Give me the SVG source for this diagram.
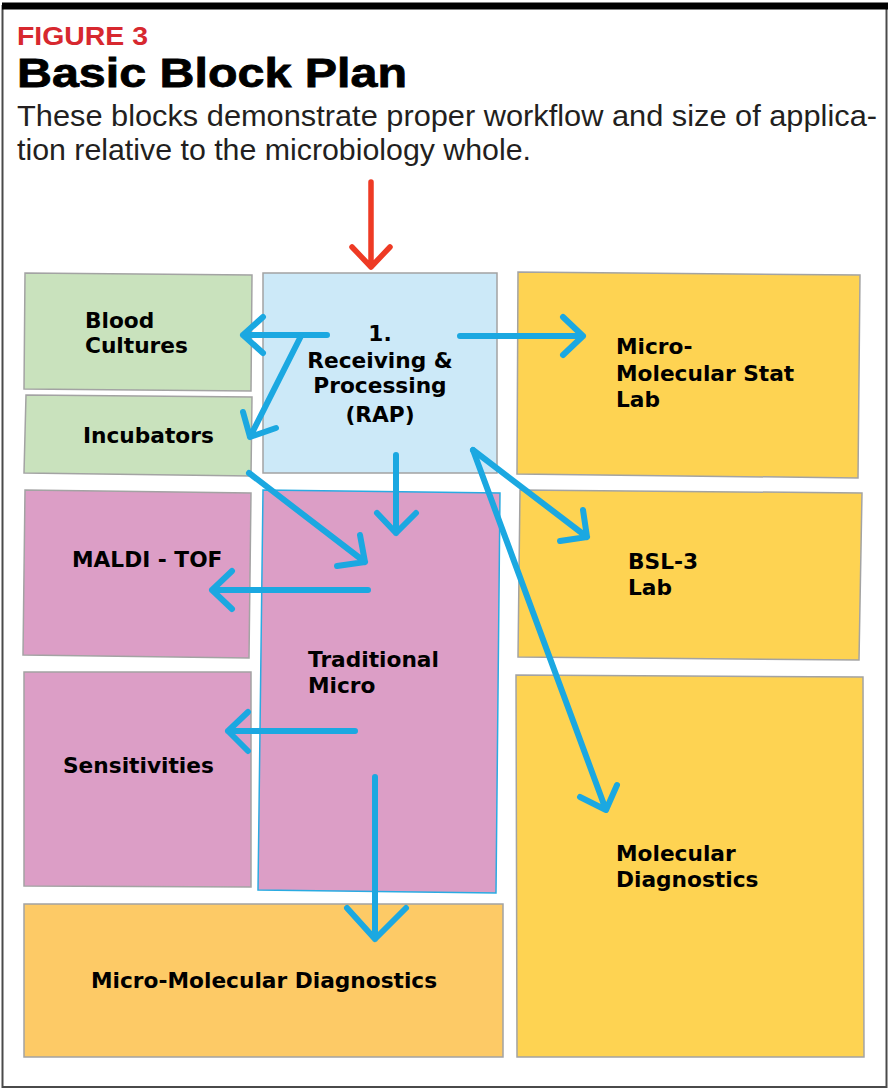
<svg xmlns="http://www.w3.org/2000/svg" width="891" height="1090" viewBox="0 0 891 1090">
<style>
.box{stroke:#a3a3a3;stroke-width:1.5}
.green{fill:#c9e2bd}
.blue{fill:#cce9f8}
.pink{fill:#dc9ec6}
.yellow{fill:#fed352}
.orange{fill:#fdca66}
.lbl{font-family:"DejaVu Sans",Verdana,sans-serif;font-weight:bold;font-size:21.7px;fill:#000}
.arr{fill:none;stroke:#1ba8e1;stroke-width:6;stroke-linecap:round;stroke-linejoin:round}
.red{fill:none;stroke:#ee3a24;stroke-width:5.5;stroke-linecap:round;stroke-linejoin:round}
</style>
<rect x="0" y="0" width="891" height="1090" fill="#fff"/>
<g id="frame">
<rect x="2.5" y="6" width="884" height="1081" fill="none" stroke="#4a4a4a" stroke-width="2"/>
<rect x="2" y="2.5" width="886" height="7" fill="#000"/>
</g>
<g id="header">
<text x="17" y="45" font-family="'Liberation Sans',Arial,sans-serif" font-weight="bold" font-size="26" fill="#d7282f" textLength="131" lengthAdjust="spacingAndGlyphs">FIGURE 3</text>
<text x="17" y="87" font-family="'Liberation Sans',Arial,sans-serif" font-weight="bold" font-size="41" fill="#000" stroke="#000" stroke-width="0.8" textLength="390" lengthAdjust="spacingAndGlyphs">Basic Block Plan</text>
<text x="17" y="126" font-family="'Liberation Sans',Arial,sans-serif" font-size="29" fill="#231f20" textLength="860" lengthAdjust="spacingAndGlyphs">These blocks demonstrate proper workflow and size of applica-</text>
<text x="17" y="160" font-family="'Liberation Sans',Arial,sans-serif" font-size="29" fill="#231f20" textLength="514" lengthAdjust="spacingAndGlyphs">tion relative to the microbiology whole.</text>
</g>
<g id="blood-cultures">
<polygon class="box green" points="25,273 252,275 251,391 24,389"/>
<text class="lbl" x="85" y="328">Blood</text>
<text class="lbl" x="85" y="353">Cultures</text>
</g>
<g id="incubators">
<polygon class="box green" points="26,395 252,397 251,476 24,473"/>
<text class="lbl" x="83" y="443">Incubators</text>
</g>
<g id="rap">
<polygon class="box blue" points="263,273 497,273 497,473 263,473"/>
<text class="lbl" x="380" y="341" text-anchor="middle">1.</text>
<text class="lbl" x="380" y="368" text-anchor="middle">Receiving &amp;</text>
<text class="lbl" x="380" y="393" text-anchor="middle">Processing</text>
<text class="lbl" x="380" y="422" text-anchor="middle">(RAP)</text>
</g>
<g id="micro-molecular-stat-lab">
<polygon class="box yellow" points="518,272 860,275 858,478 517,474"/>
<text class="lbl" x="616" y="354">Micro-</text>
<text class="lbl" x="616" y="381">Molecular Stat</text>
<text class="lbl" x="616" y="407">Lab</text>
</g>
<g id="bsl3-lab">
<polygon class="box yellow" points="520,490 862,493 859,660 518,657"/>
<text class="lbl" x="628" y="569">BSL-3</text>
<text class="lbl" x="628" y="595">Lab</text>
</g>
<g id="molecular-diagnostics">
<polygon class="box yellow" points="516,675 863,677 864,1057 517,1057"/>
<text class="lbl" x="616" y="861">Molecular</text>
<text class="lbl" x="616" y="887">Diagnostics</text>
</g>
<g id="maldi-tof">
<polygon class="box pink" points="25,490 251,493 249,658 23,655"/>
<text class="lbl" x="72" y="567">MALDI - TOF</text>
</g>
<g id="sensitivities">
<polygon class="box pink" points="24,672 251,672 251,887 24,886"/>
<text class="lbl" x="63" y="773">Sensitivities</text>
</g>
<g id="traditional-micro">
<polygon class="pink" points="263,490 500,493 496,893 258,890" stroke="#29abe2" stroke-width="1.5"/>
<text class="lbl" x="308" y="667">Traditional</text>
<text class="lbl" x="308" y="693">Micro</text>
</g>
<g id="micro-molecular-diagnostics">
<polygon class="box orange" points="24,904 503,904 503,1057 24,1057"/>
<text class="lbl" x="91" y="988">Micro-Molecular Diagnostics</text>
</g>
<g id="connectors">
<path class="red" d="M371,182 L371,267 M352,247 L371,267 L390,247"/>
<path class="arr" d="M327,335 L243,335 M263,317 L243,335 L263,353"/>
<path class="arr" d="M301,336 L250,437 M243,412 L250,437 L276,428"/>
<path class="arr" d="M460,336 L583,336 M563,317 L583,336 L563,355"/>
<path class="arr" d="M473,450 L587,537 M583,510 L587,537 L560,541"/>
<path class="arr" d="M473,450 L606,810 M617,785 L606,810 L580,797"/>
<path class="arr" d="M249,473 L365,562 M360,535 L365,562 L337,566"/>
<path class="arr" d="M396,455 L396,533 M377,513 L396,533 L416,513"/>
<path class="arr" d="M368,590 L212,590 M232,571 L212,590 L232,609"/>
<path class="arr" d="M355,731 L228,731 M248,712 L228,731 L248,751"/>
<path class="arr" d="M375,777 L375,939 M347,908 L375,939 L406,908"/>
</g>
</svg>
